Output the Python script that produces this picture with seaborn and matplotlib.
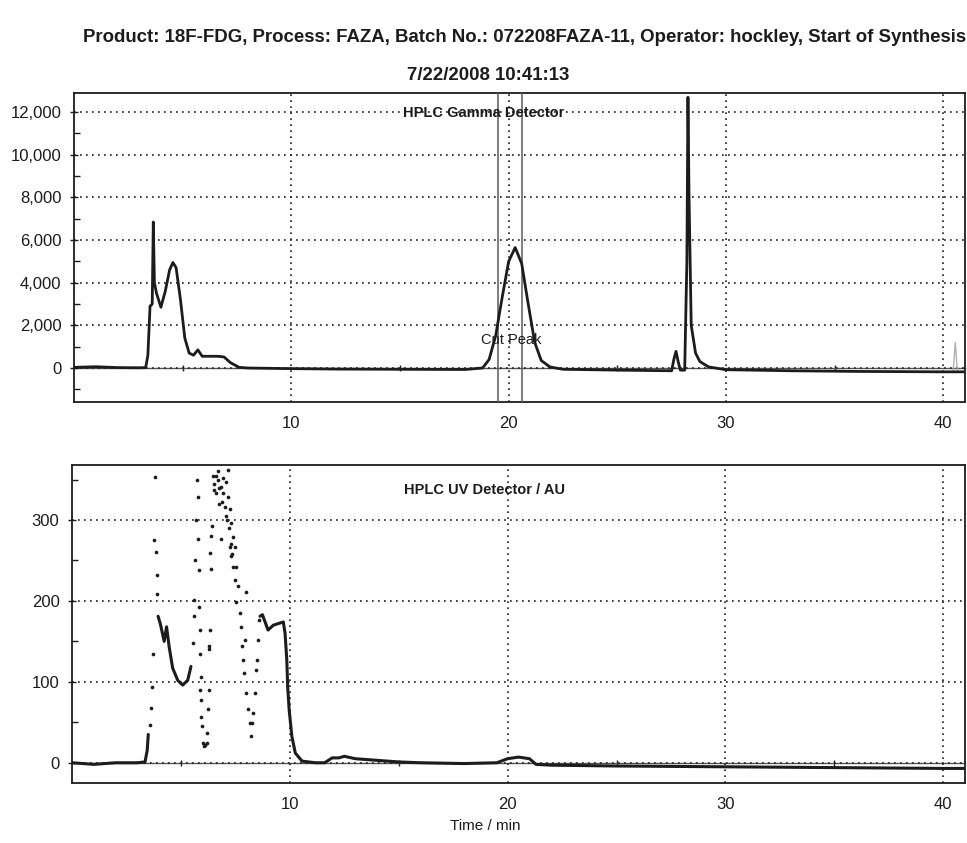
import matplotlib
matplotlib.use("Agg")
from matplotlib import pyplot as plt
import seaborn as sns
import pandas as pd

# header text
title_line1 = "Product: 18F-FDG, Process: FAZA, Batch No.: 072208FAZA-11, Operator: hockley, Start of Synthesis"
title_line2 = "7/22/2008 10:41:13"

# gamma detector trace (time / min, counts)
gamma_t = [0.0, 1.0, 2.0, 3.0, 3.3, 3.4, 3.5, 3.6, 3.65, 3.7, 3.8, 4.0, 4.2, 4.4, 4.55,
           4.7, 4.9, 5.1, 5.3, 5.5, 5.7, 5.9, 6.2, 6.6, 6.9, 7.2, 7.6, 8.0, 10.0, 12.0,
           15.0, 18.0, 18.8, 19.1, 19.4, 19.7, 20.0, 20.3, 20.6, 20.9, 21.2, 21.5, 21.9,
           22.5, 25.0, 27.5, 27.6, 27.7, 27.8, 27.9, 28.1, 28.2, 28.25, 28.3, 28.4, 28.6,
           28.8, 29.2, 30.0, 33.0, 36.0, 40.0, 41.0]
gamma_v = [30, 60, 20, 10, 20, 600, 2900, 3000, 6850, 4000, 3500, 2850, 3600, 4600, 4950,
           4700, 3200, 1400, 700, 600, 850, 550, 550, 550, 520, 250, 30, 0, -30, -50,
           -60, -70, 0, 400, 1500, 3300, 5000, 5650, 4900, 3000, 1200, 350, 50,
           -60, -100, -130, 400, 780, 300, -100, -100, 5000, 12700, 8000, 2000, 700,
           300, 50, -80, -130, -160, -180, -180]
# faint spike at the right edge
ghost_t = [40.45, 40.55, 40.65]
ghost_v = [-180, 1200, -180]
cut_marks = [19.5, 20.6]
cut_label = "Cut Peak"

# UV detector trace (time / min, AU): continuous parts
uv_a_t = [0.0, 1.0, 2.0, 3.0, 3.35, 3.45, 3.5]
uv_a_v = [0, -2, 0, 0, 1, 15, 35]
uv_b_t = [3.95, 4.05, 4.15, 4.23, 4.34, 4.46, 4.62, 4.85, 5.08, 5.31, 5.46]
uv_b_v = [181, 172, 160, 150, 168, 143, 117, 102, 96, 102, 119]
uv_c_t = [8.63, 8.74, 9.0, 9.24, 9.47, 9.7, 9.78, 9.86, 9.9, 9.97, 10.09, 10.25, 10.56,
          11.17, 11.6, 11.94, 12.25, 12.5, 13.0, 14.0, 15.0, 16.0, 18.0, 19.5, 20.0,
          20.5, 21.0, 21.3, 22.0, 25.0, 30.0, 35.0, 40.0, 41.0]
uv_c_v = [181, 183, 164, 170, 172, 174, 160, 127, 94, 65, 33, 12, 2,
          0, 0, 6, 6, 8, 5, 3, 1, 0, -1, 0, 5,
          7, 5, -2, -3, -4, -5, -6, -7, -7]
# UV detector: scattered samples on the steep / saturated parts
uv_dot_t = [3.57, 3.64, 3.69, 3.73, 3.77, 3.84, 3.8, 3.89, 3.92,
            5.54, 5.59, 5.62, 5.66, 5.69, 5.74, 5.8, 5.77, 5.82, 5.85, 5.87, 5.88, 5.9,
            5.9, 5.93, 5.97, 6.0, 6.05, 6.11, 6.2, 6.2,
            6.23, 6.31, 6.31, 6.35, 6.39, 6.35, 6.39, 6.42, 6.47, 6.54, 6.6, 6.7, 6.77,
            6.85, 6.85, 6.93, 7.0, 7.08, 7.16, 7.16, 7.24, 7.31, 7.24, 7.31, 7.39, 7.39,
            7.47, 7.47, 7.54, 7.62, 7.54, 7.7, 7.78, 7.81, 7.85, 7.93, 8.0, 7.9, 8.0,
            8.08, 8.15, 8.2, 8.27, 8.32, 8.39, 8.43, 8.47, 8.52, 8.58,
            6.5, 6.62, 6.75, 6.9, 7.05, 7.12, 7.2, 7.28, 7.35, 6.95, 6.68, 5.88, 6.28]
uv_dot_v = [47, 68, 94, 135, 275, 261, 353, 232, 209,
            148, 181, 201, 250, 300, 349, 329, 276, 238, 193, 164, 135, 106,
            78, 57, 45, 24, 21, 22, 24, 37,
            67, 90, 144, 164, 240, 259, 280, 292, 355, 337, 333, 349, 320,
            341, 277, 333, 316, 347, 362, 329, 313, 296, 267, 255, 279, 242,
            267, 226, 242, 218, 199, 185, 168, 144, 127, 152, 211, 111, 86,
            66, 49, 33, 49, 61, 86, 115, 127, 152, 177,
            345, 355, 340, 322, 305, 300, 290, 270, 258, 352, 360, 90, 140]

uv_lines = pd.concat([
    pd.DataFrame({"t": uv_a_t, "v": uv_a_v, "seg": "a"}),
    pd.DataFrame({"t": uv_b_t, "v": uv_b_v, "seg": "b"}),
    pd.DataFrame({"t": uv_c_t, "v": uv_c_v, "seg": "c"}),
])
uv_dots = pd.DataFrame({"t": uv_dot_t, "v": uv_dot_v})
gamma = pd.DataFrame({"t": gamma_t, "v": gamma_v})
ghost = pd.DataFrame({"t": ghost_t, "v": ghost_v})

sns.set_theme(style="white")
plt.rcParams["font.family"] = ["Liberation Sans", "DejaVu Sans"]
ink = "#1c1c1c"

fig = plt.figure(figsize=(9.67, 8.43), dpi=100)
ax1 = fig.add_axes([0.0765, 0.523, 0.9215, 0.3667])
ax2 = fig.add_axes([0.0745, 0.0712, 0.9235, 0.3772])


def style_axis(ax, ylim, majors, minors, fmt):
    ax.set_xlim(0, 41)
    ax.set_ylim(*ylim)
    ax.set_xticks([10, 20, 30, 40])
    ax.set_yticks(majors)
    ax.set_yticks(minors, minor=True)
    ax.set_yticklabels([fmt(m) for m in majors])
    ax.grid(True, which="major", color=ink, linestyle=(0, (1, 2.6)), linewidth=1.2)
    ax.tick_params(axis="y", which="major", direction="inout", length=6, width=1,
                   color=ink, labelsize=12, labelcolor=ink, pad=6, left=True)
    ax.tick_params(axis="y", which="minor", direction="in", length=4, width=1,
                   color=ink, left=True)
    ax.tick_params(axis="x", which="major", length=0, labelsize=12, labelcolor=ink, pad=10)
    for s in ax.spines.values():
        s.set_color(ink)
        s.set_linewidth(1.3)
    ax.set_xlabel("")
    ax.set_ylabel("")
    # zero line with small ticks at the half decades
    lo, hi = ylim
    zero = ax.secondary_xaxis((0 - lo) / (hi - lo))
    zero.set_xticks([5, 15, 25, 35])
    zero.tick_params(direction="inout", length=5, width=1, color=ink, labelbottom=False)
    zero.spines["bottom"].set_color("#555555")
    zero.spines["bottom"].set_linewidth(1.0)


# gamma panel
style_axis(ax1, (-1600, 12900), list(range(0, 12001, 2000)), list(range(-1000, 12000, 2000)),
           lambda m: f"{m:,}")
for c in cut_marks:
    ax1.axvline(c, color="#5a5a5a", linewidth=1.1, zorder=3)
sns.lineplot(data=ghost, x="t", y="v", ax=ax1, color="#b0b0b0", linewidth=1.0, zorder=4)
sns.lineplot(data=gamma, x="t", y="v", ax=ax1, color=ink, linewidth=2.0, zorder=5,
             estimator=None, sort=False)
ax1.text(0.46, 0.935, "HPLC Gamma Detector", transform=ax1.transAxes, ha="center",
         va="center", fontsize=10.5, fontweight="bold", color=ink)
ax1.text(20.1, 1300, cut_label, ha="center", va="center", fontsize=10.5, color=ink, zorder=6)
ax1.set_xlabel("")
ax1.set_ylabel("")

# UV panel
style_axis(ax2, (-25, 368), [0, 100, 200, 300], [50, 150, 250, 350], lambda m: f"{m}")
sns.lineplot(data=uv_lines, x="t", y="v", units="seg", estimator=None, ax=ax2, color=ink,
             linewidth=2.2, zorder=5)
sns.scatterplot(data=uv_dots, x="t", y="v", ax=ax2, color=ink, s=7, linewidth=0, zorder=5)
ax2.text(0.462, 0.92, "HPLC UV Detector / AU", transform=ax2.transAxes, ha="center",
         va="center", fontsize=10.5, fontweight="bold", color=ink)
ax2.set_xlabel("")
ax2.set_ylabel("")

fig.text(0.5015, 0.02, "Time / min", ha="center", va="center", fontsize=11, color=ink)

# header, sized so that the first line runs to the right edge
fam = ["Liberation Sans Narrow", "Liberation Sans", "DejaVu Sans"]
t1 = fig.text(0.0858, 0.956, title_line1, ha="left", va="center", fontsize=13,
              fontweight="bold", family=fam, color=ink)
t2 = fig.text(0.505, 0.911, title_line2, ha="center", va="center", fontsize=13,
              fontweight="bold", family=fam, color=ink)
fig.canvas.draw()
w = t1.get_window_extent().width
size = 13 * 884 / w
t1.set_fontsize(size)
t2.set_fontsize(size)

fig.savefig("out.png", dpi=100)
